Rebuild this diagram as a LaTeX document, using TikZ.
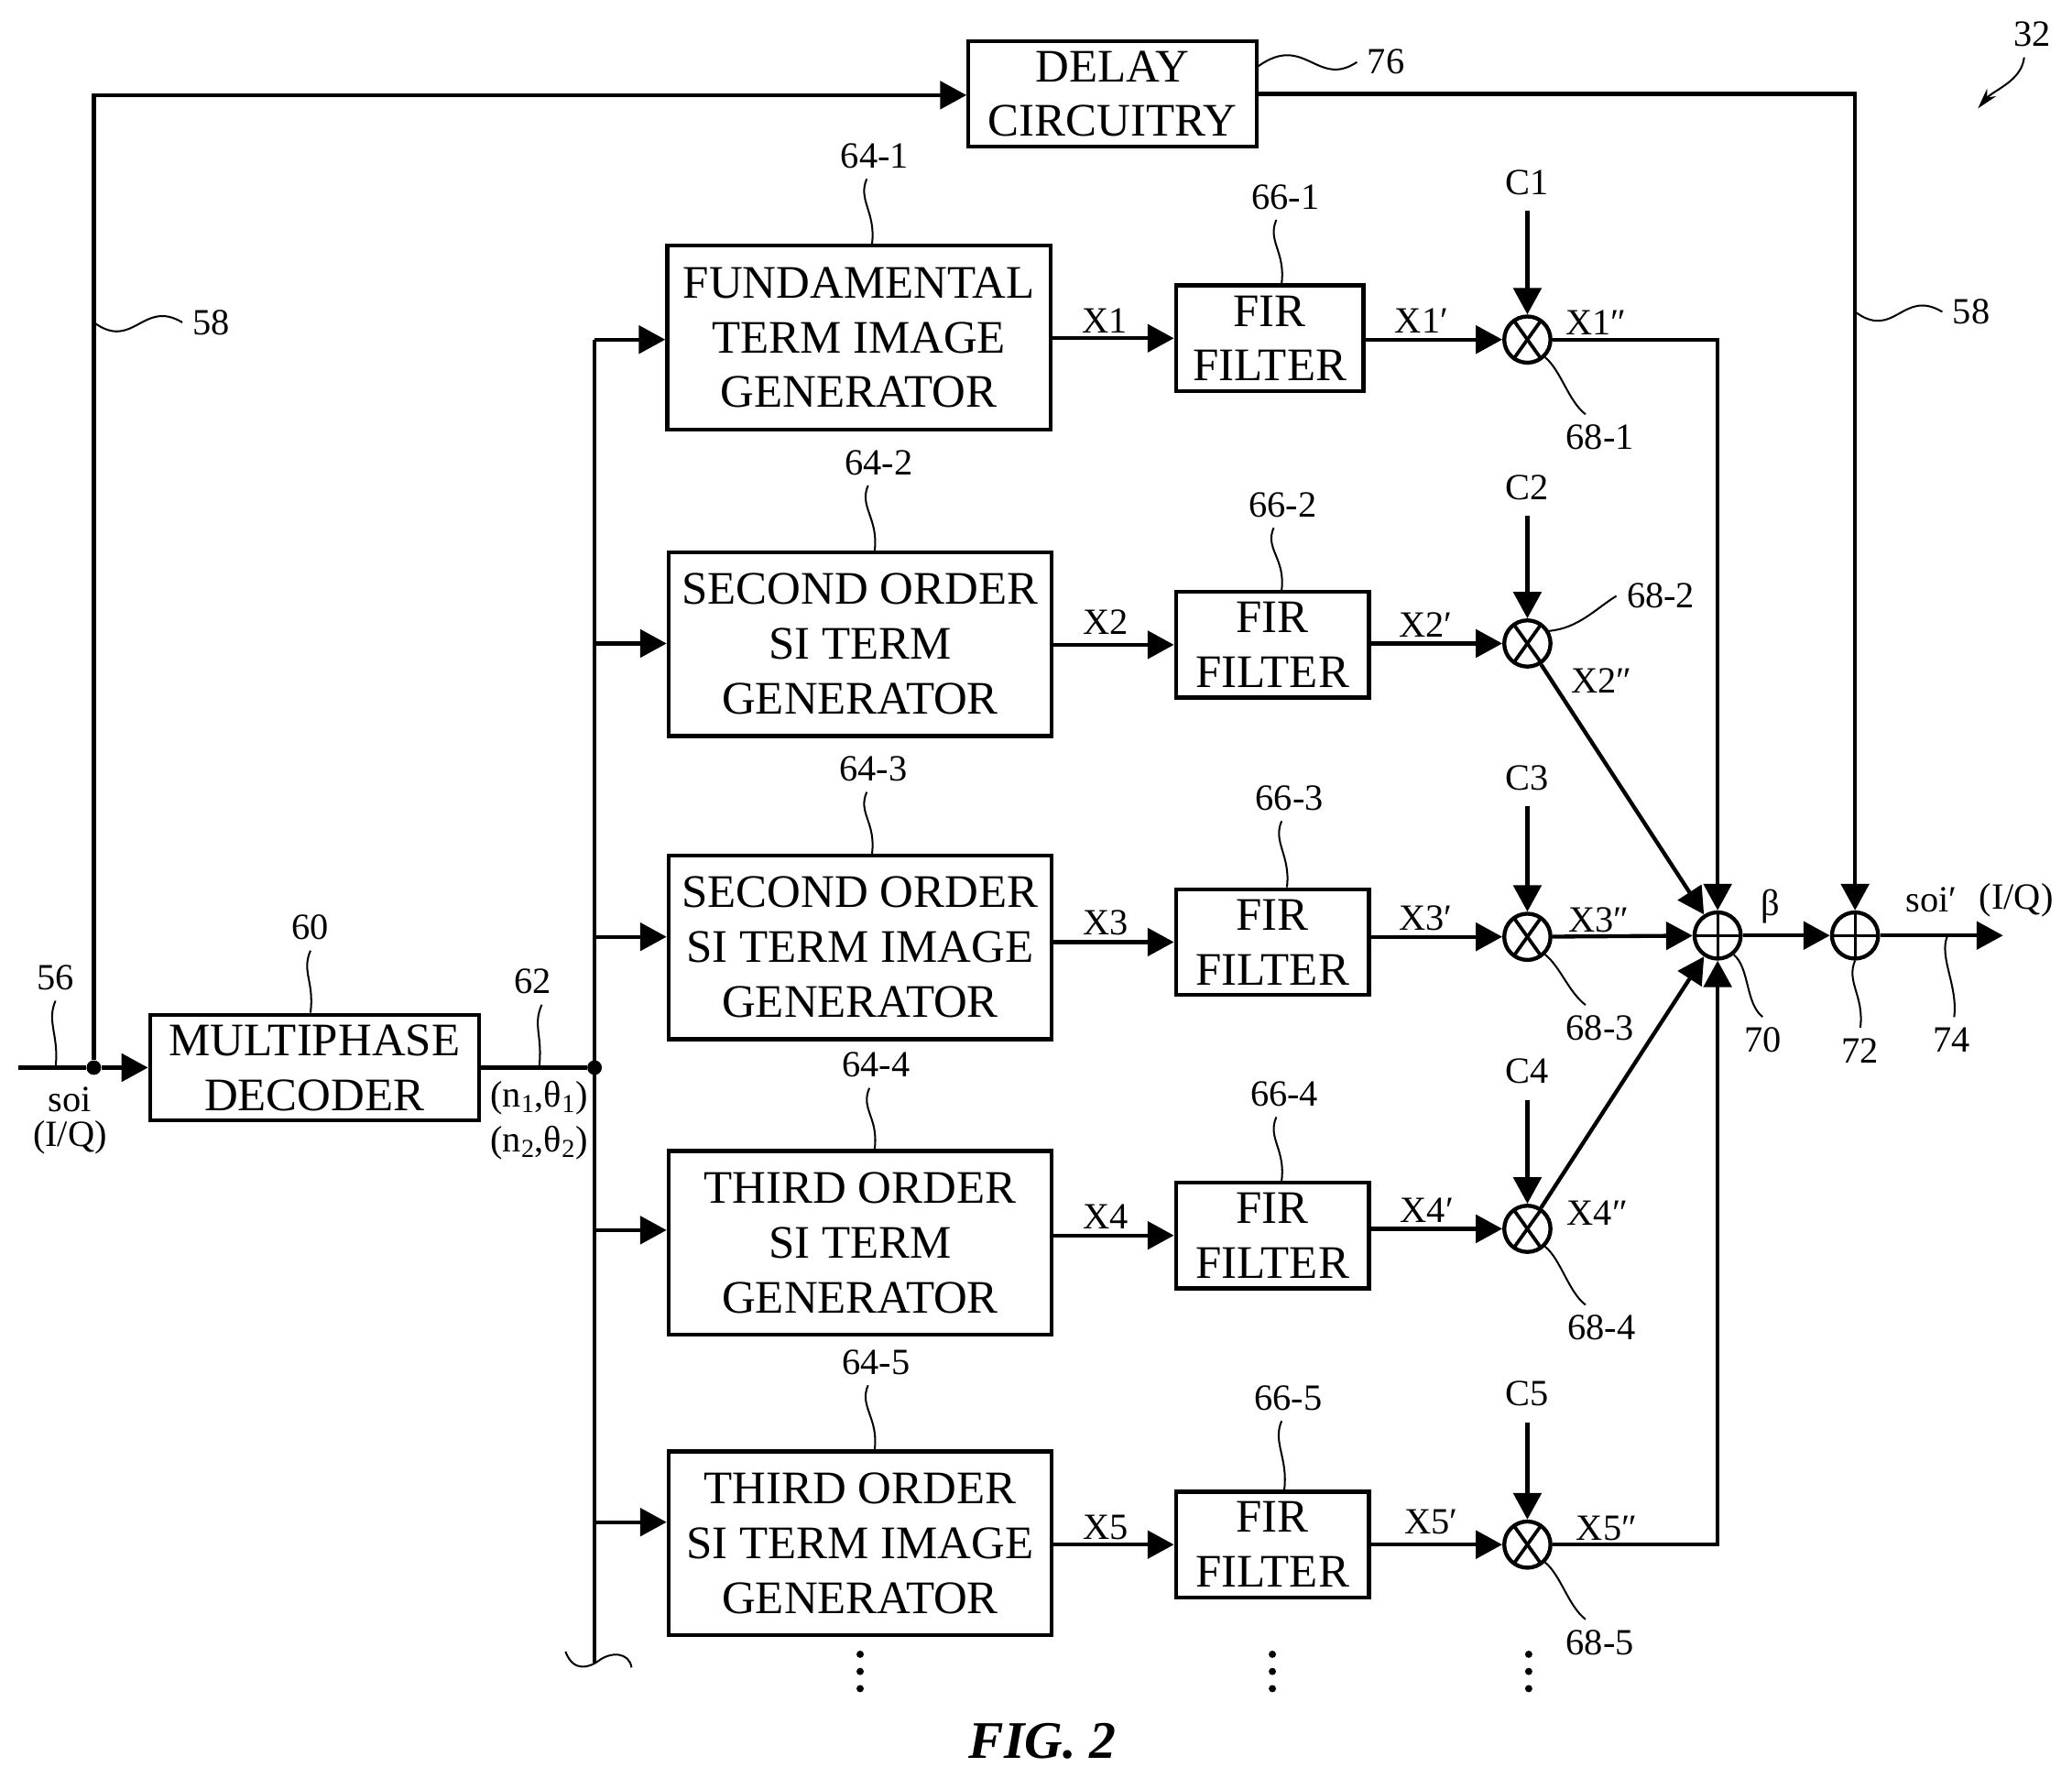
\documentclass[tikz,border=0pt]{standalone}
\usepackage{fontspec}
\setmainfont{Liberation Serif}
\usetikzlibrary{arrows.meta}
\tikzset{
	genbox/.style={draw,line width=3pt,minimum width=290pt,minimum height=139pt,inner sep=0pt,align=center,font=\fontsize{35.3}{41.5}\selectfont},
	firbox/.style={genbox,minimum width=146pt,minimum height=80pt},
	mult/.style={circle,draw,line width=3pt,minimum size=35pt,inner sep=0pt,path picture={
		\draw[line width=2.6pt] ([xshift=5pt]path picture bounding box.north west) -- ([xshift=-5pt]path picture bounding box.south east);
		\draw[line width=2.6pt] ([xshift=-5pt]path picture bounding box.north east) -- ([xshift=5pt]path picture bounding box.south west);}},
	adder/.style={circle,draw,line width=3pt,minimum size=35pt,inner sep=0pt,path picture={
		\draw[line width=2pt] (path picture bounding box.north) -- (path picture bounding box.south);
		\draw[line width=2pt] (path picture bounding box.west) -- (path picture bounding box.east);}},
	junction/.style={circle,fill,minimum size=11pt,inner sep=0pt},
	lbl/.style={inner sep=0pt,outer sep=8pt,font=\fontsize{28}{30}\selectfont},
	clbl/.style={lbl,outer sep=12pt},
	wire/.style={line width=3pt},
	arrow/.style={wire,-{Triangle[length=20pt,width=21pt]}},
	leader/.style={line width=1.4pt},
	vlead/.style={leader,to path={.. controls +(-7,16) and +(3,-24) .. (\tikztotarget)}},
	dlead/.style={leader,to path={.. controls +(12,10) and +(-13,-10) .. (\tikztotarget)}},
	hlead/.style={leader,to path={.. controls +(30,22) and +(-30,-18) .. (\tikztotarget)}},
	vdot/.style={circle,fill,minimum size=5.5pt,inner sep=0pt},
}
\begin{document}
\begin{tikzpicture}[x=1pt,y=-1pt]
	\useasboundingbox (0,0) rectangle (1568.2,1345);
	\node[genbox,minimum width=218pt,minimum height=80pt] (delay) at (842,71) {DELAY\\CIRCUITRY};
	\node[genbox,minimum width=249pt,minimum height=80pt] (dec) at (238,808) {MULTIPHASE\\DECODER};
	\node[genbox] (b1) at (650,255.5) {FUNDAMENTAL\\TERM IMAGE\\GENERATOR};
	\node[genbox] (b2) at (651,487.5) {SECOND ORDER\\SI TERM\\GENERATOR};
	\node[genbox] (b3) at (651,717) {SECOND ORDER\\SI TERM IMAGE\\GENERATOR};
	\node[genbox] (b4) at (651,940.5) {THIRD ORDER\\SI TERM\\GENERATOR};
	\node[genbox] (b5) at (651,1168) {THIRD ORDER\\SI TERM IMAGE\\GENERATOR};
	\node[firbox,minimum width=142pt] (f1) at (961,256) {FIR\\FILTER};
	\node[firbox] (f2) at (963,488) {FIR\\FILTER};
	\node[firbox] (f3) at (963,713) {FIR\\FILTER};
	\node[firbox] (f4) at (963,935) {FIR\\FILTER};
	\node[firbox] (f5) at (963,1169) {FIR\\FILTER};
	\node[mult] (m1) at (1156,257) {};
	\node[mult] (m2) at (1156,487) {};
	\node[mult] (m3) at (1156,709) {};
	\node[mult] (m4) at (1156,930) {};
	\node[mult] (m5) at (1156,1169) {};
	\node[adder] (a70) at (1300,708) {};
	\node[adder] (a72) at (1404,708) {};
	\node[junction] (j56) at (71,808) {};
	\node[junction] (jbus) at (450,808) {};
	\coordinate (in) at (14,808);
	\coordinate (out) at (1516,708);
	\coordinate (ctop) at (71,72);
	\coordinate (cright) at (1404,71);
	\coordinate (j1) at (1300,257);
	\coordinate (j5) at (1300,1169);
	\coordinate (t1) at (450,257);
	\coordinate (t2) at (450,487);
	\coordinate (t3) at (450,709);
	\coordinate (t4) at (450,931);
	\coordinate (t5) at (450,1152);
	\coordinate (tend) at (450,1258);
	\node[clbl] (c1) at (1156,138) {C1};
	\node[clbl] (c2) at (1156,369) {C2};
	\node[clbl] (c3) at (1156,589) {C3};
	\node[clbl] (c4) at (1156,811) {C4};
	\node[clbl] (c5) at (1156,1055) {C5};
	\draw[wire] (in) -- (j56);
	\draw[arrow] (j56) -- (dec.west);
	\draw[arrow] (j56) -- (ctop) -- (delay.west |- ctop);
	\draw[arrow] (delay.east |- cright) -- (cright) -- (a72.north);
	\draw[wire] (dec.east) -- (jbus);
	\draw[wire] (t1) -- (tend);
	\draw[arrow] (t1) -- (b1.west |- t1);
	\draw[arrow] (t2) -- (b2.west |- t2);
	\draw[arrow] (t3) -- (b3.west |- t3);
	\draw[arrow] (t4) -- (b4.west |- t4);
	\draw[arrow] (t5) -- (b5.west |- t5);
	\draw[arrow] (b1.east |- f1) -- (f1.west);
	\draw[arrow] (b2.east |- f2) -- (f2.west);
	\draw[arrow] (b3.east |- f3) -- (f3.west);
	\draw[arrow] (b4.east |- f4) -- (f4.west);
	\draw[arrow] (b5.east |- f5) -- (f5.west);
	\draw[arrow] (f1.east |- m1) -- (m1);
	\draw[arrow] (f2.east |- m2) -- (m2);
	\draw[arrow] (f3.east |- m3) -- (m3);
	\draw[arrow] (f4.east |- m4) -- (m4);
	\draw[arrow] (f5.east |- m5) -- (m5);
	\draw[arrow] (m1) -- (j1) -- (a70.north);
	\draw[arrow] (m2) -- (a70);
	\draw[arrow] (m3) -- (a70);
	\draw[arrow] (m4) -- (a70);
	\draw[arrow] (m5) -- (j5) -- (a70.south);
	\draw[arrow] (a70) -- (a72);
	\draw[arrow] (a72) -- (out);
	\draw[arrow] (c1) -- (m1);
	\draw[arrow] (c2) -- (m2);
	\draw[arrow] (c3) -- (m3);
	\draw[arrow] (c4) -- (m4);
	\draw[arrow] (c5) -- (m5);
	\draw[leader] (428,1250) .. controls (434,1266) and (446,1262) .. (453,1257) .. controls (462,1250) and (476,1250) .. (478,1262);
	\node[lbl] (l32) at (1538,26) {32};
	\node[lbl] (l76) at (1049,47) {76};
	\node[lbl] (l58a) at (160,244) {58};
	\node[lbl] (l58b) at (1492,236) {58};
	\node[lbl] (l56) at (42,740) {56};
	\node[lbl] (l60) at (235,702) {60};
	\node[lbl] (l62) at (403,743) {62};
	\node[lbl] (l70) at (1334,787) {70};
	\node[lbl] (l72) at (1408,795) {72};
	\node[lbl] (l74) at (1477,787) {74};
	\node[lbl] (l641) at (662,118) {64-1};
	\node[lbl] (l642) at (665,350) {64-2};
	\node[lbl] (l643) at (661,582) {64-3};
	\node[lbl] (l644) at (663,806) {64-4};
	\node[lbl] (l645) at (663,1031) {64-5};
	\node[lbl] (l661) at (973,149) {66-1};
	\node[lbl] (l662) at (971,382) {66-2};
	\node[lbl] (l663) at (976,604) {66-3};
	\node[lbl] (l664) at (972,828) {66-4};
	\node[lbl] (l665) at (975,1058) {66-5};
	\node[lbl] (l681) at (1211,331) {68-1};
	\node[lbl] (l682) at (1257,451) {68-2};
	\node[lbl] (l683) at (1211,778) {68-3};
	\node[lbl] (l684) at (1212,1005) {68-4};
	\node[lbl] (l685) at (1211,1243) {68-5};
	\node[lbl] at (53,832) {soi};
	\node[lbl] at (53,861) {(I/Q)};
	\node[lbl] at (408,831) {(n\textsubscript{1},θ\textsubscript{1})};
	\node[lbl] at (408,865) {(n\textsubscript{2},θ\textsubscript{2})};
	\node[lbl] at (1340,686) {β};
	\node[lbl] at (1462,681) {soi′};
	\node[lbl] at (1526,681) {(I/Q)};
	\node[lbl] at (836,243) {X1};
	\node[lbl] at (837,471) {X2};
	\node[lbl] at (837,698) {X3};
	\node[lbl] at (837,921) {X4};
	\node[lbl] at (837,1156) {X5};
	\node[lbl] at (1076,243) {X1′};
	\node[lbl] at (1079,473) {X2′};
	\node[lbl] at (1079,695) {X3′};
	\node[lbl] at (1080,916) {X4′};
	\node[lbl] at (1083,1152) {X5′};
	\node[lbl] at (1208,244) {X1″};
	\node[lbl] at (1212,515) {X2″};
	\node[lbl] at (1210,696) {X3″};
	\node[lbl] at (1209,918) {X4″};
	\node[lbl] at (1216,1157) {X5″};
	\draw[leader,-{Stealth[length=16pt,width=9pt]}] ([xshift=-6pt]l32.south) .. controls +(-2,18) and +(12,-14) .. (1497,82);
	\draw[leader] (delay.east |- l76) ++(0,3) .. controls +(35,-25) and +(-30,20) .. (l76.west);
	\draw[hlead] (j56 |- l58a) to (l58a.west);
	\draw[hlead] (a72 |- l58b) to (l58b.west);
	\draw[vlead] (l56.south) to ([xshift=-29pt]j56.center);
	\draw[vlead] (l60.south) to ([xshift=-3pt]dec.north);
	\draw[vlead] ([xshift=7pt]l62.south) to ([xshift=-42pt]jbus.center);
	\draw[vlead] ([xshift=-6pt]l641.south) to ([xshift=10pt]b1.north);
	\draw[vlead] ([xshift=-8pt]l642.south) to ([xshift=11pt]b2.north);
	\draw[vlead] ([xshift=-5pt]l643.south) to ([xshift=9pt]b3.north);
	\draw[vlead] ([xshift=-5pt]l644.south) to ([xshift=11pt]b4.north);
	\draw[vlead] ([xshift=-6pt]l645.south) to ([xshift=11pt]b5.north);
	\draw[vlead] ([xshift=-7pt]l661.south) to ([xshift=9pt]f1.north);
	\draw[vlead] ([xshift=-7pt]l662.south) to ([xshift=7pt]f2.north);
	\draw[vlead] ([xshift=-6pt]l663.south) to ([xshift=11pt]f3.north);
	\draw[vlead] ([xshift=-6pt]l664.south) to ([xshift=7pt]f4.north);
	\draw[vlead] ([xshift=-5pt]l665.south) to ([xshift=9pt]f5.north);
	\draw[dlead] (m1.-45) to ([xshift=-11pt]l681.north);
	\draw[leader] (m2.30) .. controls +(22,-2) and +(-16,10) .. (l682.west);
	\draw[dlead] (m3.-45) to ([xshift=-11pt]l683.north);
	\draw[dlead] (m4.-45) to ([xshift=-12pt]l684.north);
	\draw[dlead] (m5.-45) to ([xshift=-11pt]l685.north);
	\draw[dlead] (a70.-50) to (l70.north);
	\draw[vlead] (a72.south) to (l72.north);
	\draw[vlead] ([xshift=70pt]a72.center) to ([xshift=2pt]l74.north);
	\node[vdot] (d1) at (651,1252) {};
	\node[vdot] (d2) at (651,1265) {};
	\node[vdot] (d3) at (651,1278) {};
	\node[vdot] (d4) at (963,1252) {};
	\node[vdot] (d5) at (963,1265) {};
	\node[vdot] (d6) at (963,1278) {};
	\node[vdot] (d7) at (1157,1252) {};
	\node[vdot] (d8) at (1157,1265) {};
	\node[vdot] (d9) at (1157,1278) {};
	\node[font=\fontsize{40}{44}\selectfont\bfseries\itshape] (fig) at (789,1318) {FIG. 2};
\end{tikzpicture}
\end{document}
